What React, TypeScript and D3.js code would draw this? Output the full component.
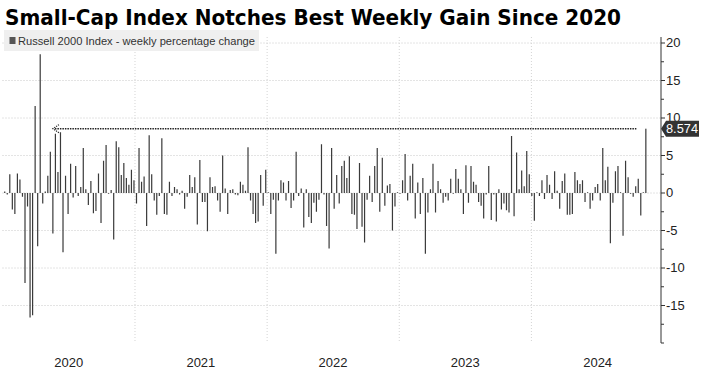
import * as d3 from 'd3';

// weekly % change of the Russell 2000, one value per Friday from 3 Jan 2020
const FIRST_WEEK = new Date(2020, 0, 3);

const change2020 = [
  0.2, -0.2, 2.5, -2.2, -2.8, 2.6, 1.8, -0.5, -12.0, -1.8,
  -16.6, -16.3, 11.6, -7.1, 18.5, -1.4, 0.2, 2.3, 5.5, -5.4,
  7.9, 2.8, 8.1, -7.9, 2.3, -2.8, 3.9, -0.6, 3.6, -0.4,
  0.8, 6.0, 0.5, -1.6, 1.6, -2.7, -2.4, 2.6, -4.0, 4.3,
  6.4, -0.1, 0.4, -6.2, 6.9, 6.1, 2.4, 4.0, 2.0, 1.1,
  3.1, 1.7,
];
const change2021 = [
  -1.4, 6.0, 1.5, 2.2, -4.4, 7.7, 2.5, -1.0, -2.9, -0.4,
  7.3, -2.8, -2.9, 1.5, -0.4, 0.8, 0.5, -0.2, 0.3, -2.1,
  -0.5, 2.4, 0.8, 2.1, -4.2, 4.4, -1.2, -1.2, -5.1, 2.1,
  0.8, 0.9, -1.0, -2.5, 5.0, 0.6, -2.8, 0.4, 0.5, -0.2,
  -0.3, 1.5, 1.1, 0.3, 6.1, -1.0, -2.8, -4.0, -3.8, 2.4,
  -1.7, 3.1, 0.1,
];
const change2022 = [
  -2.8, -0.9, -8.1, -1.0, 1.7, 1.4, -1.0, 1.6, -2.0, -1.0,
  5.5, -0.4, 0.6, -4.6, 0.5, -3.2, -4.0, -1.3, -2.5, -0.9,
  6.5, -0.2, -4.4, -7.4, 6.0, -2.1, 2.4, -1.4, 3.6, 4.3,
  2.0, 4.9, -2.8, -2.9, -4.8, 4.0, -4.5, -6.6, -0.9, 2.3,
  -1.2, 3.6, 6.0, -2.5, 4.7, -1.7, 1.0, 1.2, -5.0, -1.8,
  0.1, -0.1,
];
const change2023 = [
  1.7, 5.2, -1.0, 2.3, 3.9, -3.4, 1.4, -2.8, 2.0, -8.1,
  -2.6, 0.5, 3.9, -2.6, 1.6, 0.5, -1.3, -0.5, -1.0, 1.9,
  -0.1, 3.2, 1.9, 0.5, -2.8, 3.7, -1.3, 3.6, 1.5, 1.1,
  -1.2, -1.7, -3.4, -0.2, 3.6, -3.6, -0.2, -3.8, 0.5, -2.2,
  -1.4, -2.3, -2.6, 7.6, -3.1, 5.4, 0.5, 3.0, 0.9, 5.6,
  2.5, -0.4,
];
const change2024 = [
  -3.7, 0.1, -0.4, 1.7, -0.8, 2.4, 1.1, -0.8, 2.9, 0.3,
  -2.1, 1.6, 2.6, -2.9, -2.9, -2.8, 2.8, 1.7, 1.2, 1.7,
  -1.2, 0.1, -2.1, -1.0, 0.8, 1.2, -1.0, 6.0, 1.7, 3.5,
  -6.7, -1.3, 2.9, 3.6, 0.1, -5.7, 4.3, 2.1, -0.1, -0.5,
  0.9, 1.9, -3.0, 0.1, 8.574,
];

const yearLabels = [2020, 2021, 2022, 2023, 2024];
const yLabelTicks = [-15, -10, -5, 0, 5, 10, 15, 20];
const priorHighWeek = new Date(2020, 4, 22);

const TITLE = 'Small-Cap Index Notches Best Weekly Gain Since 2020';
const LEGEND = 'Russell 2000 Index - weekly percentage change';

const W = 708;
const H = 375;
const FONT = "'Liberation Sans Narrow', 'Liberation Sans', Arial, sans-serif";

export default function App() {
  const values = [...change2020, ...change2021, ...change2022, ...change2023, ...change2024];
  const weeks = values.map((v, i) => ({ date: d3.timeDay.offset(FIRST_WEEK, 7 * i), value: v }));
  const last = weeks[weeks.length - 1];

  const x = d3.scaleTime().domain([new Date(2020, 0, 1), new Date(2024, 11, 24)]).range([2.5, 661]);
  const y = d3.scaleLinear().domain([-20, 20.8]).range([343, 37]);
  const axisX = x.range()[1];
  const [yBottom, yTop] = y.range();

  const minorTicks = d3.range(-17.5, 20, 5);
  const yearStarts = yearLabels.slice(1).map((yr) => new Date(yr, 0, 1));

  const refY = y(last.value);
  const arrowTip = x(priorHighWeek) - 1;
  const refEnd = x(last.date) - 8;

  return (
    <svg
      width={W}
      height={H}
      style={{ position: 'absolute', left: 0, top: 0, background: '#fff' }}
      fontFamily={FONT}
    >
      <text
        x={5}
        y={25}
        fontFamily="'DejaVu Sans', sans-serif"
        fontWeight="bold"
        fontSize={21}
        fill="#000"
        textLength={616}
        lengthAdjust="spacingAndGlyphs"
      >
        {TITLE}
      </text>

      {/* gridlines */}
      {yLabelTicks.map((t) => (
        <line
          key={'h' + t}
          x1={x.range()[0]}
          x2={axisX}
          y1={y(t)}
          y2={y(t)}
          stroke="#c8c8c8"
          strokeDasharray="1,2"
        />
      ))}
      {yearStarts.map((d) => (
        <line
          key={'v' + d.getFullYear()}
          x1={x(d)}
          x2={x(d)}
          y1={yTop}
          y2={yBottom}
          stroke="#d4d4d4"
          strokeDasharray="1,2"
        />
      ))}

      {/* legend */}
      <rect x={4} y={30} width={255} height={21} fill="#efefef" />
      <rect x={9.5} y={37} width={6} height={7} fill="#555" />
      <text x={18} y={44.5} fontSize={11.5} fill="#333" textLength={237} lengthAdjust="spacingAndGlyphs">
        {LEGEND}
      </text>

      {/* bars */}
      {weeks.map((w, i) => (
        <rect
          key={i}
          x={x(w.date) + 1.5 - 0.6}
          width={1.2}
          y={Math.min(y(w.value), y(0))}
          height={Math.abs(y(w.value) - y(0))}
          fill="#3a3a3a"
        />
      ))}

      {/* reference line to the prior high */}
      <line
        x1={arrowTip + 2}
        x2={refEnd}
        y1={refY}
        y2={refY}
        stroke="#222"
        strokeWidth={1.5}
        strokeDasharray="1.5,1"
      />
      <path
        d={`M${arrowTip + 6},${refY - 4}L${arrowTip},${refY}L${arrowTip + 6},${refY + 4}`}
        fill="none"
        stroke="#222"
        strokeWidth={1.2}
        strokeDasharray="1.2,1"
      />

      {/* y axis */}
      <line x1={axisX} x2={axisX} y1={yTop} y2={yBottom} stroke="#333" />
      {yLabelTicks.map((t) => (
        <g key={'t' + t}>
          <line x1={axisX} x2={axisX + 4} y1={y(t)} y2={y(t)} stroke="#333" />
          <text x={axisX + 5} y={y(t) + 4} fontSize={13} fill="#222">
            {t}
          </text>
        </g>
      ))}
      {minorTicks.map((t) => (
        <line key={'m' + t} x1={axisX} x2={axisX + 3} y1={y(t)} y2={y(t)} stroke="#333" />
      ))}
      <line x1={axisX} x2={axisX + 3} y1={y(-20)} y2={y(-20)} stroke="#333" />

      {/* last value label */}
      <path
        d={`M${axisX},${refY}L${axisX + 5},${refY - 8}H${W - 9}V${refY + 8}H${axisX + 5}Z`}
        fill="#333"
      />
      <text
        x={axisX + 5}
        y={refY + 4.5}
        fontSize={12.5}
        fill="#fff"
        textLength={32}
        lengthAdjust="spacingAndGlyphs"
      >
        {d3.format('.3f')(last.value)}
      </text>

      {/* x labels */}
      {yearLabels.map((yr) => (
        <text
          key={yr}
          x={x(new Date(yr, 6, 2))}
          y={367}
          fontSize={13}
          fill="#222"
          textAnchor="middle"
        >
          {yr}
        </text>
      ))}
    </svg>
  );
}
